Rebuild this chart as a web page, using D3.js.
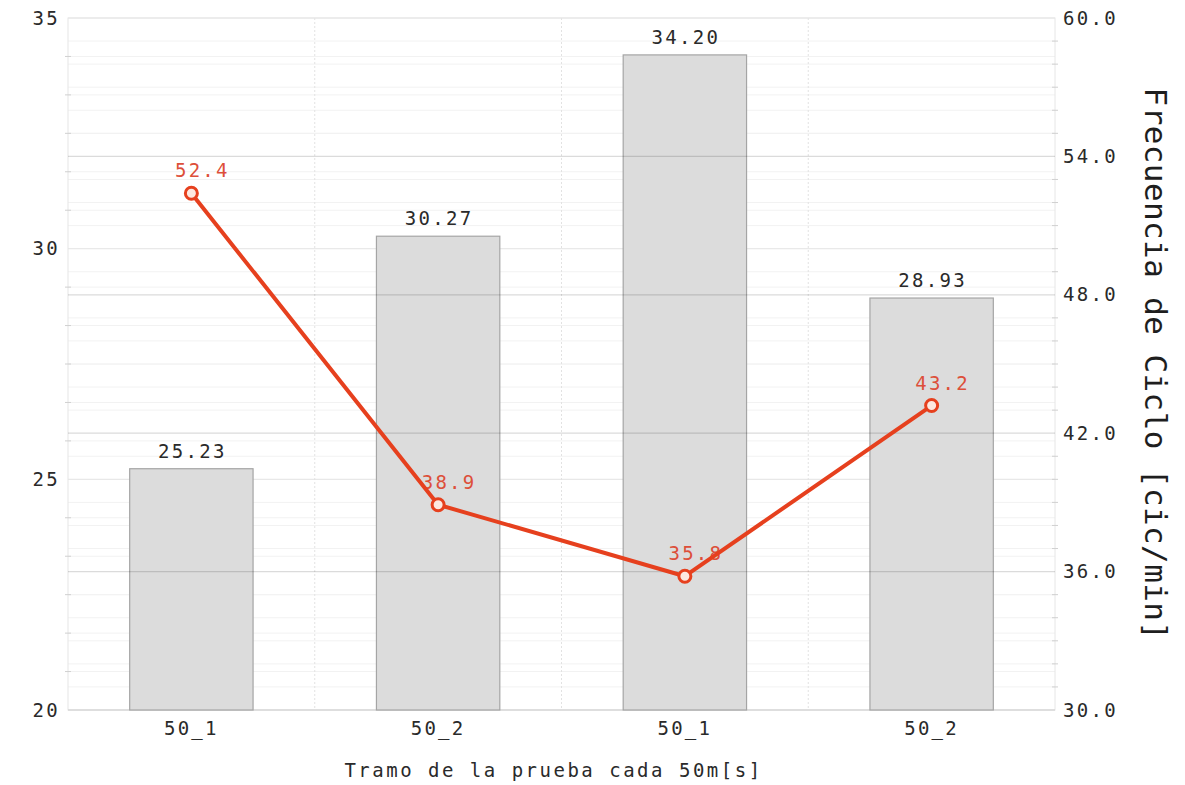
<!DOCTYPE html>
<html><head><meta charset="utf-8">
<script src="https://cdn.jsdelivr.net/npm/d3@7"></script>
<style>
html,body{margin:0;padding:0;background:#fff;}
text{font-family:"DejaVu Sans Mono",monospace;}
</style></head>
<body><svg id="c" width="1185" height="785"></svg>
<script>
const categories = ["50_1","50_2","50_1","50_2"];
const barValues = [25.23, 30.27, 34.20, 28.93];
const lineValues = [52.4, 38.9, 35.8, 43.2];
const leftTicks = [20, 25, 30, 35];
const rightTicks = [30, 36, 42, 48, 54, 60];
const xTitle = "Tramo de la prueba cada 50m[s]";
const rightTitle = "Frecuencia de Ciclo [cic/min]";

const svg = d3.select("#c");
const L = 68, R = 1055, T = 18, B = 710;
const x = d3.scaleBand().domain(d3.range(categories.length)).range([L, R]).paddingInner(0).paddingOuter(0);
const yL = d3.scaleLinear().domain([20, 35]).range([B, T]);
const yR = d3.scaleLinear().domain([30, 60]).range([B, T]);

const fontMono = '"DejaVu Sans Mono", monospace';

// minor grid lines
const leftMinor = d3.range(0, 19).map(i => 20 + i * 5 / 6).filter(v => !leftTicks.includes(+v.toFixed(4)));
const rightMinor = d3.range(30, 61, 1).filter(v => !rightTicks.includes(v));
const g = svg.append("g");
g.selectAll("line.lm").data(leftMinor).join("line")
  .attr("x1", L).attr("x2", R).attr("y1", d => yL(d)).attr("y2", d => yL(d))
  .attr("stroke", "#f2f2f2").attr("stroke-width", 1);
g.selectAll("line.rm").data(rightMinor).join("line")
  .attr("x1", L).attr("x2", R).attr("y1", d => yR(d)).attr("y2", d => yR(d))
  .attr("stroke", "#f2f2f2").attr("stroke-width", 1);
// left major grid
g.selectAll("line.lM").data(leftTicks).join("line")
  .attr("x1", L).attr("x2", R).attr("y1", d => yL(d)).attr("y2", d => yL(d))
  .attr("stroke", "#e6e6e6").attr("stroke-width", 1);
// vertical grid between categories
g.selectAll("line.v").data(d3.range(1, categories.length)).join("line")
  .attr("x1", d => x(d)).attr("x2", d => x(d)).attr("y1", T).attr("y2", B)
  .attr("stroke", "#e2e2e2").attr("stroke-width", 1).attr("stroke-dasharray", "2,2");

// frame
svg.append("rect").attr("x", L).attr("y", T).attr("width", R - L).attr("height", B - T)
  .attr("fill", "none").attr("stroke", "#e6e6e6");
svg.append("line").attr("x1", L).attr("x2", R).attr("y1", B).attr("y2", B).attr("stroke", "#cfcfcf");

// bars
const bw = x.bandwidth() * 0.5;
svg.selectAll("rect.bar").data(barValues).join("rect")
  .attr("x", (d, i) => x(i) + x.bandwidth() / 2 - bw / 2)
  .attr("y", d => yL(d)).attr("width", bw).attr("height", d => B - yL(d))
  .attr("fill", "#dcdcdc").attr("stroke", "#a5a5a5").attr("stroke-width", 1.2);

// right major grid over bars (semi-transparent)
svg.selectAll("line.rM").data(rightTicks.slice(1, -1)).join("line")
  .attr("x1", L).attr("x2", R).attr("y1", d => yR(d)).attr("y2", d => yR(d))
  .attr("stroke", "rgba(0,0,0,0.14)").attr("stroke-width", 1.3);

// axes ticks
const axL = d3.axisLeft(yL).tickValues(leftTicks).tickSize(0).tickPadding(8).tickFormat(d3.format("d"));
const gl = svg.append("g").attr("transform", `translate(${L},0)`).call(axL);
const axR = d3.axisRight(yR).tickValues(rightTicks).tickSize(0).tickPadding(8).tickFormat(d3.format(".1f"));
const gr = svg.append("g").attr("transform", `translate(${R},0)`).call(axR);
const axB = d3.axisBottom(x).tickFormat(i => categories[i]).tickSize(0).tickPadding(12);
const gb = svg.append("g").attr("transform", `translate(0,${B})`).call(axB);
[gl, gr, gb].forEach(a => {
  a.select(".domain").remove();
  a.selectAll("text").attr("font-family", fontMono).attr("font-size", 19)
    .attr("letter-spacing", "2.3px").attr("fill", "#2a2a2a");
});
// minor tick marks
svg.append("g").selectAll("line").data(leftMinor).join("line")
  .attr("x1", L - 3).attr("x2", L + 3).attr("y1", d => yL(d)).attr("y2", d => yL(d)).attr("stroke", "#d0d0d0");
svg.append("g").selectAll("line").data(rightMinor).join("line")
  .attr("x1", R - 3).attr("x2", R + 3).attr("y1", d => yR(d)).attr("y2", d => yR(d)).attr("stroke", "#d0d0d0");

// bar labels
svg.selectAll("text.bl").data(barValues).join("text")
  .attr("x", (d, i) => x(i) + x.bandwidth() / 2 + 1).attr("y", d => yL(d) - 11)
  .attr("text-anchor", "middle").attr("font-family", fontMono).attr("font-size", 19)
  .attr("letter-spacing", "2.3px").attr("fill", "#2a2a2a").text(d => d.toFixed(2));

// line labels (drawn under the line)
svg.selectAll("text.ll").data(lineValues).join("text")
  .attr("x", (d, i) => x(i) + x.bandwidth() / 2 + 11).attr("y", d => yR(d) - 16)
  .attr("text-anchor", "middle").attr("font-family", fontMono).attr("font-size", 19)
  .attr("letter-spacing", "2.3px").attr("fill", "#dd4f3a").text(d => d.toFixed(1));

// line
const line = d3.line().x((d, i) => x(i) + x.bandwidth() / 2).y(d => yR(d));
svg.append("path").datum(lineValues).attr("d", line)
  .attr("fill", "none").attr("stroke", "#e6401e").attr("stroke-width", 4).attr("stroke-linejoin", "round");
svg.selectAll("circle.pt").data(lineValues).join("circle")
  .attr("cx", (d, i) => x(i) + x.bandwidth() / 2).attr("cy", d => yR(d)).attr("r", 6)
  .attr("fill", "#fde8e0").attr("stroke", "#e6401e").attr("stroke-width", 3);

// titles
svg.append("text").attr("x", (L + R) / 2 - 8).attr("y", 777).attr("text-anchor", "middle")
  .attr("font-family", fontMono).attr("font-size", 19).attr("letter-spacing", "2.5px")
  .attr("fill", "#2a2a2a").text(xTitle);
svg.append("text").attr("transform", `translate(1145,${364}) rotate(90)`).attr("text-anchor", "middle")
  .attr("font-family", fontMono).attr("font-size", 31).attr("letter-spacing", "0.4px")
  .attr("fill", "#1e1e1e").text(rightTitle);
</script></body></html>
